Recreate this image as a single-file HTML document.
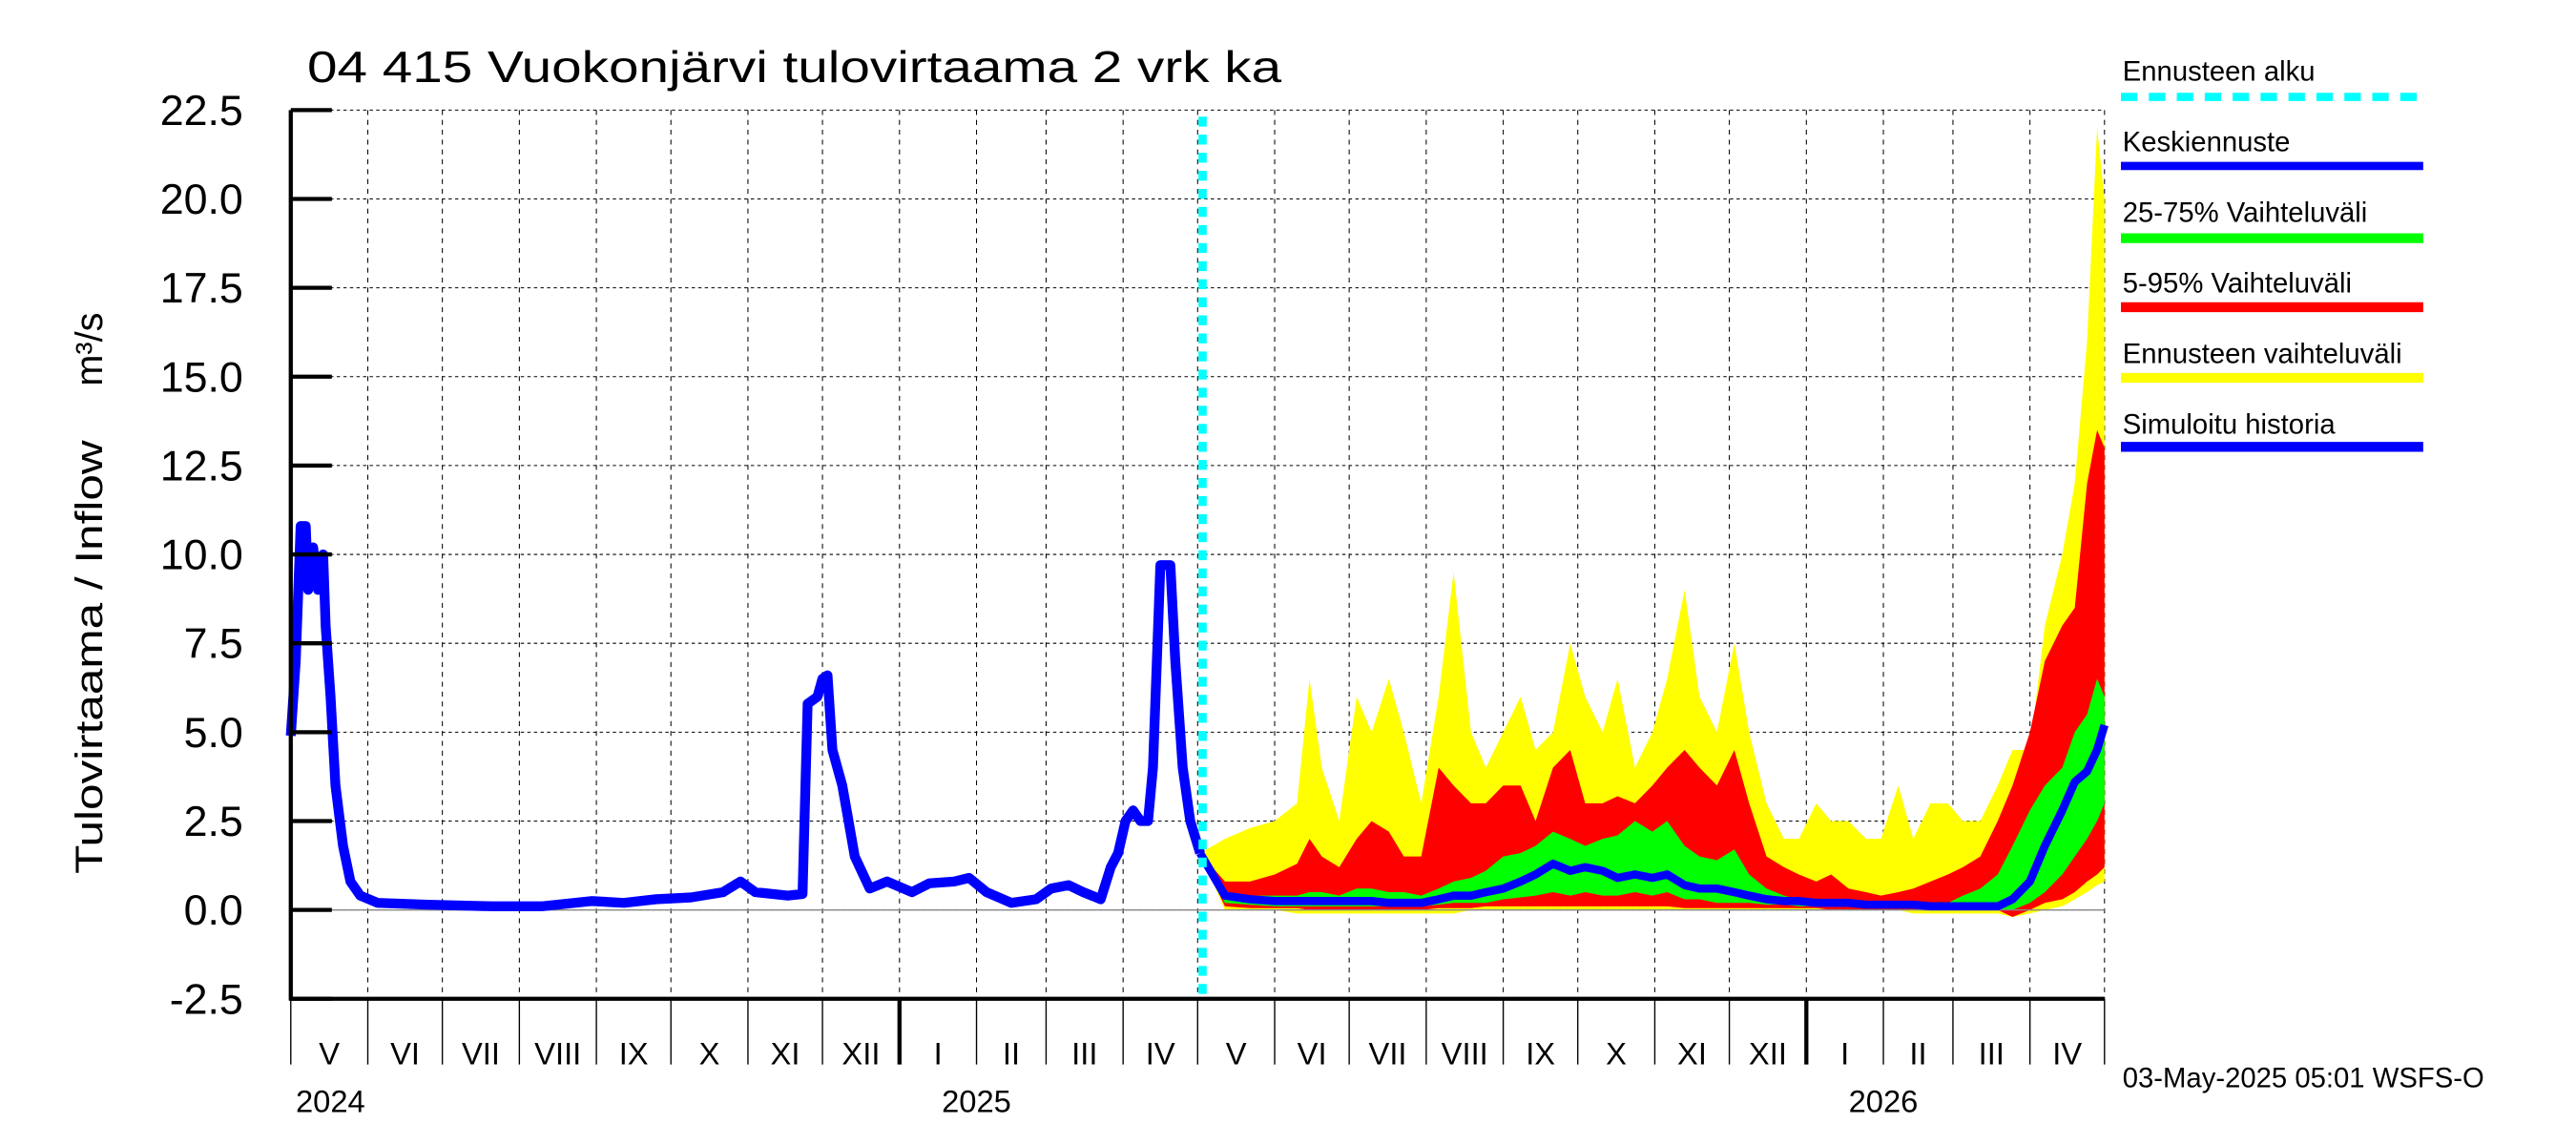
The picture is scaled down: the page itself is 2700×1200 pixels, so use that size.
<!DOCTYPE html>
<html><head><meta charset="utf-8"><style>
html,body{margin:0;padding:0;background:#fff;}
svg{display:block;font-family:"Liberation Sans",sans-serif;}
</style></head><body>
<svg id="chart" width="2700" height="1200" viewBox="0 0 1568 697" preserveAspectRatio="none" xmlns="http://www.w3.org/2000/svg">
<rect width="1568" height="697" fill="#fff"/>
<g id="grid"></g>
<g id="bands"></g>
<g id="lines"></g>
<g id="axes"></g>
<text x="187" y="50" font-size="27" textLength="593" lengthAdjust="spacingAndGlyphs">04 415 Vuokonjärvi tulovirtaama 2 vrk ka</text>
<text transform="translate(62,532) rotate(-90)" font-size="23" textLength="264" lengthAdjust="spacingAndGlyphs">Tulovirtaama / Inflow</text>
<text transform="translate(62,235) rotate(-90)" font-size="23">m³/s</text>
<g font-size="17">
<text x="1292" y="49">Ennusteen alku</text>
<line x1="1291" y1="59" x2="1475" y2="59" stroke="#00ffff" stroke-width="5" stroke-dasharray="10,7"/>
<text x="1292" y="92">Keskiennuste</text>
<line x1="1291" y1="101" x2="1475" y2="101" stroke="#0000ff" stroke-width="5"/>
<text x="1292" y="135">25-75% Vaihteluväli</text>
<line x1="1291" y1="145" x2="1475" y2="145" stroke="#00ff00" stroke-width="6"/>
<text x="1292" y="178">5-95% Vaihteluväli</text>
<line x1="1291" y1="187" x2="1475" y2="187" stroke="#ff0000" stroke-width="6"/>
<text x="1292" y="221">Ennusteen vaihteluväli</text>
<line x1="1291" y1="230" x2="1475" y2="230" stroke="#ffff00" stroke-width="6"/>
<text x="1292" y="264">Simuloitu historia</text>
<line x1="1291" y1="272" x2="1475" y2="272" stroke="#0000ff" stroke-width="6"/>
</g>
<text x="1292" y="662" font-size="17">03-May-2025 05:01 WSFS-O</text>
</svg>
<script>
// days since 2024-05-01
const histDays=[0,2,4,6,7,9,11,13,14,16,18,21,24,28,35,55,81,101,121,134,147,161,174,181,187,200,206,208,212,214,216,218,222,227,233,240,250,257,267,273,280,290,300,306,313,319,326,330,333,336,339,342,345,347,350,354,356,359,362,366];
const histVals=[4.9,7,10.8,10.8,9,10.2,9,10,8,6,3.5,1.8,0.8,0.4,0.2,0.15,0.1,0.1,0.25,0.2,0.3,0.35,0.5,0.8,0.5,0.4,0.45,5.8,6,6.5,6.6,4.5,3.5,1.5,0.6,0.8,0.5,0.75,0.8,0.9,0.5,0.2,0.3,0.6,0.7,0.5,0.3,1.2,1.6,2.5,2.8,2.5,2.5,4,9.7,9.7,7,4,2.5,1.6];
const fcDays=[366,376,386,396,405,410,415,422,429,435,442,448,455,462,468,475,481,488,495,501,508,515,521,528,534,541,548,554,561,567,574,581,587,594,601,607,614,620,627,634,640,647,653,660,667,673,680,687,693,700,706,713,718,723,727,730];
const yMax=[1.6,2,2.3,2.5,3,6.5,4,2.5,6,5,6.5,5,3,6,9.5,5,4,5,6,4.5,5,7.5,6,5,6.5,4,5,6.5,9,6,5,7.5,5,3,2,2,3,2.5,2.5,2,2,3.5,2,3,3,2.5,2.5,3.5,4.5,4.5,8,10,12,16,22,20];
const rMax=[1.6,0.8,0.8,1,1.3,2,1.5,1.2,2,2.5,2.2,1.5,1.5,4,3.5,3,3,3.5,3.5,2.5,4,4.5,3,3,3.2,3,3.5,4,4.5,4,3.5,4.5,3,1.5,1.2,1,0.8,1,0.6,0.5,0.4,0.5,0.6,0.8,1,1.2,1.5,2.5,3.5,5,7,8,8.5,12,13.5,13];
const gMax=[1.6,0.5,0.4,0.4,0.4,0.5,0.5,0.4,0.6,0.6,0.5,0.5,0.4,0.6,0.8,0.9,1.1,1.5,1.6,1.8,2.2,2,1.8,2,2.1,2.5,2.2,2.5,1.8,1.5,1.4,1.7,1,0.6,0.4,0.3,0.3,0.3,0.3,0.2,0.2,0.2,0.2,0.2,0.2,0.4,0.6,1,1.8,2.8,3.5,4,5,5.5,6.5,6];
const meanVals=[1.6,0.4,0.3,0.25,0.25,0.25,0.25,0.25,0.25,0.25,0.2,0.2,0.2,0.3,0.4,0.4,0.5,0.6,0.8,1.0,1.3,1.1,1.2,1.1,0.9,1.0,0.9,1.0,0.7,0.6,0.6,0.5,0.4,0.3,0.25,0.25,0.2,0.2,0.2,0.15,0.15,0.15,0.15,0.1,0.1,0.1,0.1,0.1,0.3,0.8,1.8,2.8,3.6,3.9,4.5,5.2];
const gMin=[1.6,0.2,0.15,0.1,0.1,0.1,0.1,0.1,0.1,0.1,0.1,0.1,0.1,0.15,0.2,0.2,0.2,0.3,0.35,0.4,0.5,0.4,0.5,0.4,0.4,0.5,0.4,0.5,0.3,0.3,0.2,0.2,0.2,0.15,0.15,0.1,0.1,0.1,0.1,0.1,0.1,0.1,0.1,0.05,0.05,0.05,0.05,0,0,0.2,0.5,1,1.5,2,2.5,3];
const rMin=[1.6,0.1,0.05,0.05,0.05,0,0,0,0,0,0,0,0,0.05,0.05,0.05,0.1,0.1,0.1,0.1,0.1,0.1,0.1,0.1,0.1,0.1,0.1,0.1,0.05,0.05,0.05,0.05,0.05,0.05,0.05,0.05,0.05,0,0,0,0,0,0,0,0,0,0,0,-0.2,0,0.2,0.3,0.5,0.8,1,1.2];
const yMin=[1.6,0,0,0,-0.1,-0.1,-0.1,-0.1,-0.1,-0.1,-0.1,-0.1,-0.1,-0.1,-0.1,0,0,0,0,0,0,0,0,0,0,0,0,0,0,0,0,0,0,0,0,0,0,0,0,0,0,0,-0.1,-0.1,-0.1,-0.1,-0.1,-0.1,-0.2,-0.1,0,0.1,0.3,0.5,0.7,0.8];
const yTicks=[-2.5,0,2.5,5,7.5,10,12.5,15,17.5,20,22.5];
const yTickLabels=["-2.5","0.0","2.5","5.0","7.5","10.0","12.5","15.0","17.5","20.0","22.5"];
const monthStarts=[0,31,61,92,123,153,184,214,245,276,304,335,365,396,426,457,488,518,549,579,610,641,669,700,730];
const monthLabels=["V","VI","VII","VIII","IX","X","XI","XII","I","II","III","IV","V","VI","VII","VIII","IX","X","XI","XII","I","II","III","IV"];
const yearStarts=[245,610];
const yearLabels=["2024","2025","2026"];
const yearLabelDays=[2,262,627];
const forecastStart=367;

const NS="http://www.w3.org/2000/svg";
const L=177,R=1281,T=67,B=608;
const X=d=>L+(d/730)*(R-L);
const Y=v=>B-(v+2.5)/25*(B-T);
function mk(tag,parent,attrs){const e=document.createElementNS(NS,tag);for(const k in attrs)e.setAttribute(k,attrs[k]);parent.appendChild(e);return e;}
const grid=document.getElementById('grid'),bands=document.getElementById('bands'),lines=document.getElementById('lines'),axes=document.getElementById('axes');

yTicks.forEach((v,i)=>{
  const g=mk('line',grid,{x1:L,x2:R,y1:Y(v),y2:Y(v),stroke:'#000','stroke-width':0.6,'stroke-dasharray':'2,2'});
  
  
  const t=mk('line',axes,{x1:L,x2:L+25,y1:Y(v),y2:Y(v),stroke:'#000','stroke-width':2.5});
  
  
  const lb=mk('text',axes,{x:148,y:Y(v)+9,'font-size':26,'text-anchor':'end'});
  lb.textContent=yTickLabels[i];
  
  
});
monthStarts.forEach((d,i)=>{
  if(i>0){const g=mk('line',grid,{x1:X(d),x2:X(d),y1:T,y2:B,stroke:'#000','stroke-width':0.6,'stroke-dasharray':'3,3'});
  
  }
  const isYear=yearStarts.includes(d);
  const t=mk('line',axes,{x1:X(d),x2:X(d),y1:B,y2:B+40,stroke:'#000','stroke-width':isYear?2.5:0.8});
  
  
  if(i<monthLabels.length){
    const lb=mk('text',axes,{x:(X(d)+X(monthStarts[i+1]))/2,y:648,'font-size':19,'text-anchor':'middle'});
    lb.textContent=monthLabels[i];
    
    
  }
});
yearLabels.forEach((y,i)=>{
  const lb=mk('text',axes,{x:X(yearLabelDays[i]),y:677,'font-size':19});
  lb.textContent=y;
  
  
});
function band(top,bot,color,name){
  let p=fcDays.map((d,i)=>X(d).toFixed(1)+','+Y(top[i]).toFixed(1));
  for(let i=fcDays.length-1;i>=0;i--)p.push(X(fcDays[i]).toFixed(1)+','+Y(bot[i]).toFixed(1));
  const e=mk('polygon',bands,{points:p.join(' '),fill:color});
  
  
}
band(yMax,yMin,'#ffff00','band-full-range');
band(rMax,rMin,'#ff0000','band-5-95');
band(gMax,gMin,'#00ff00','band-25-75');
const zl=mk('line',lines,{x1:L,x2:R,y1:Y(0),y2:Y(0),stroke:'#888','stroke-width':0.8});


const mean=mk('polyline',lines,{points:fcDays.map((d,i)=>X(d).toFixed(1)+','+Y(meanVals[i]).toFixed(1)).join(' '),fill:'none',stroke:'#0000ff','stroke-width':5,'stroke-linejoin':'round'});


const hist=mk('polyline',lines,{points:histDays.map((d,i)=>X(d).toFixed(1)+','+Y(histVals[i]).toFixed(1)).join(' '),fill:'none',stroke:'#0000ff','stroke-width':6,'stroke-linejoin':'round'});


const fs=mk('line',lines,{x1:X(forecastStart),x2:X(forecastStart),y1:T+4,y2:B,stroke:'#00ffff','stroke-width':5,'stroke-dasharray':'6,5'});


const ax1=mk('line',axes,{x1:L,x2:L,y1:T,y2:B+1,stroke:'#000','stroke-width':2.5});


const ax2=mk('line',axes,{x1:L-1,x2:R,y1:B,y2:B,stroke:'#000','stroke-width':2.5});


</script>
</body></html>
